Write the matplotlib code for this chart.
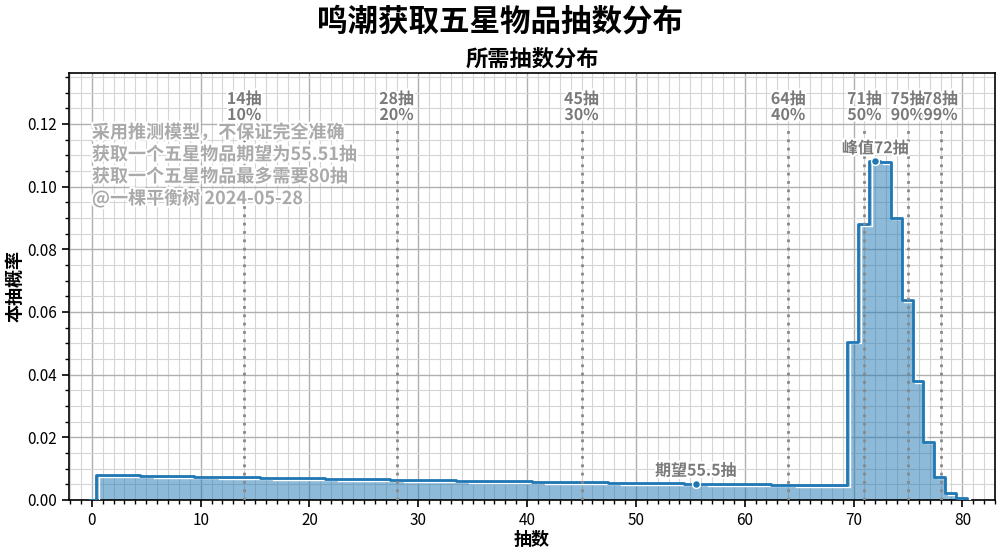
import numpy as np
import matplotlib
matplotlib.use("Agg")
import matplotlib.pyplot as plt
import matplotlib.patheffects as pe
from matplotlib.ticker import MultipleLocator, FormatStrFormatter

plt.rcParams['font.family'] = ['Noto Sans CJK SC', 'DejaVu Sans']
plt.rcParams['axes.unicode_minus'] = False

pulls = list(range(1, 81))
probs = [
    0.00800, 0.00794, 0.00787, 0.00781, 0.00775, 0.00769, 0.00763, 0.00757, 0.00751, 0.00745,
    0.00739, 0.00733, 0.00727, 0.00721, 0.00716, 0.00710, 0.00704, 0.00699, 0.00693, 0.00688,
    0.00682, 0.00677, 0.00671, 0.00666, 0.00661, 0.00655, 0.00650, 0.00645, 0.00640, 0.00635,
    0.00630, 0.00625, 0.00620, 0.00615, 0.00610, 0.00605, 0.00600, 0.00595, 0.00591, 0.00586,
    0.00581, 0.00577, 0.00572, 0.00568, 0.00563, 0.00559, 0.00554, 0.00550, 0.00545, 0.00541,
    0.00537, 0.00533, 0.00528, 0.00524, 0.00520, 0.00516, 0.00512, 0.00508, 0.00504, 0.00500,
    0.00496, 0.00492, 0.00488, 0.00484, 0.00480, 0.00476, 0.00472, 0.00469, 0.00465, 0.0505,
    0.0881, 0.1080, 0.1077, 0.0901, 0.0638, 0.0380, 0.0186, 0.0074, 0.0021, 0.0007,
]
quantile_pulls = [14, 28, 45, 64, 71, 75, 78]
quantile_labels = ["10%", "20%", "30%", "40%", "50%", "90%", "99%"]
peak_pull = 72
peak_prob = 0.1080
mean_pull = 55.5
mean_prob = 0.00518
info_lines = ["采用推测模型，不保证完全准确",
              "获取一个五星物品期望为55.51抽",
              "获取一个五星物品最多需要80抽",
              "@一棵平衡树 2024-05-28"]

fig = plt.figure(figsize=(10, 5.56), dpi=100)
ax = fig.add_axes([0.069, 0.101, 0.926, 0.768])

edges = np.arange(0.5, 81.5, 1.0)
xs = np.repeat(edges, 2)[1:-1]
ys = np.repeat(probs, 2)
xs_full = np.concatenate([[edges[0]], xs, [edges[-1]]])
ys_full = np.concatenate([[0], ys, [0]])

ax.fill_between(xs_full, ys_full, 0, color='#1f77b4', alpha=0.5, linewidth=0, zorder=2)
ax.plot(xs_full, ys_full, color='white', lw=1.0, zorder=3,
        path_effects=[pe.Stroke(offset=(1.3, -1.3), linewidth=1.0, foreground='white')])
ax.plot(np.concatenate([[-0.2], xs_full - 0.08, [80.2]]),
        np.concatenate([[0], ys_full, [0]]),
        color='#1f77b4', lw=2, zorder=4)

ymax_line = 0.1187
label_pe = [pe.withStroke(linewidth=3, foreground='white')]
for q, lab in zip(quantile_pulls, quantile_labels):
    ax.plot([q, q], [0, ymax_line], color='#888888', lw=2, ls=(0, (1, 2.0)), zorder=5)
    ax.text(q, 0.1203, f"{q}抽\n{lab}", ha='center', va='bottom', fontsize=11.5,
            fontweight='bold', color='#7a7a7a', linespacing=1.0, zorder=6,
            path_effects=label_pe)

ax.scatter([peak_pull], [peak_prob], s=32, color='#1f77b4', edgecolor='white', lw=1, zorder=7)
ax.text(peak_pull, peak_prob + 0.0017, f"峰值{peak_pull}抽", ha='center', va='bottom',
        fontsize=11.5, fontweight='bold', color='#7a7a7a', zorder=6, path_effects=label_pe)
ax.scatter([mean_pull], [mean_prob], s=32, color='#1f77b4', edgecolor='white', lw=1, zorder=7)
ax.text(mean_pull, mean_prob + 0.0016, f"期望{mean_pull}抽", ha='center', va='bottom',
        fontsize=11.5, fontweight='bold', color='#7a7a7a', zorder=6, path_effects=label_pe)

ax.text(0.0, 0.1203, "\n".join(info_lines), ha='left', va='top', fontsize=13,
        fontweight='bold', color='#aaaaaa', linespacing=1.2, zorder=6,
        path_effects=label_pe)

ax.set_xlim(-2.1, 83)
ax.set_ylim(0, 0.1363)
ax.xaxis.set_major_locator(MultipleLocator(10))
ax.xaxis.set_minor_locator(MultipleLocator(1))
ax.yaxis.set_major_locator(MultipleLocator(0.02))
ax.yaxis.set_minor_locator(MultipleLocator(0.005))
ax.yaxis.set_major_formatter(FormatStrFormatter('%.2f'))
ax.grid(which='major', color='#b0b0b0', lw=1.0, zorder=0)
ax.grid(which='minor', color='#d5d5d5', lw=0.8, zorder=0)
ax.set_axisbelow(True)
ax.tick_params(which='major', direction='out', length=5, width=1.2, labelsize=11)
ax.tick_params(which='minor', direction='out', length=3, width=1)
for s in ax.spines.values():
    s.set_linewidth(1.2)

ax.set_xlabel("抽数", fontsize=13, fontweight='bold', labelpad=1)
ax.set_ylabel("本抽概率", fontsize=13, fontweight='bold', labelpad=2)
ax.set_title("所需抽数分布", fontsize=16, fontweight='bold', pad=5)
fig.suptitle("鸣潮获取五星物品抽数分布", fontsize=22, fontweight='bold', y=0.99)

fig.savefig("out.png", dpi=100)
